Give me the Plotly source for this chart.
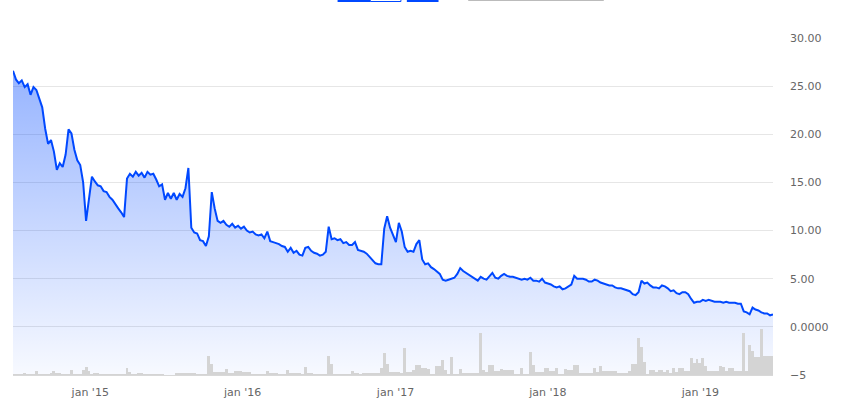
import pandas as pd
import plotly.graph_objects as go

# ---- data ----
START_DATE = "2014-06-30"          # first weekly observation
PRICE = [
    26.6, 25.7, 25.3, 25.6, 24.9, 25.2, 24.1, 24.9, 24.6, 23.8,
    22.8, 20.6, 19.0, 19.4, 18.2, 16.3, 17.0, 16.6, 17.9, 20.5,
    20.1, 18.4, 17.3, 16.8, 15.0, 11.0, 13.6, 15.6, 15.1, 14.7,
    14.6, 14.1, 14.0, 13.5, 13.2, 12.7, 12.3, 11.9, 11.4, 15.4,
    15.9, 15.6, 16.1, 15.7, 16.0, 15.5, 16.1, 15.8, 15.9, 15.3,
    14.6, 14.8, 13.2, 13.9, 13.3, 13.9, 13.2, 13.8, 13.5, 14.4,
    16.5, 10.3, 9.8, 9.7, 9.0, 8.9, 8.4, 9.4, 14.0, 12.3,
    11.0, 10.8, 11.0, 10.6, 10.4, 10.7, 10.3, 10.5, 10.2, 10.4,
    10.0, 9.8, 9.9, 9.6, 9.5, 9.6, 9.2, 9.9, 8.9, 8.8,
    8.7, 8.6, 8.4, 8.3, 7.8, 8.2, 7.7, 7.9, 7.5, 7.4,
    8.2, 8.3, 7.9, 7.7, 7.6, 7.4, 7.5, 7.8, 10.4, 9.1,
    9.2, 9.0, 9.1, 8.7, 8.8, 8.5, 8.5, 8.8, 8.0, 7.9,
    7.8, 7.6, 7.3, 7.0, 6.6, 6.5, 6.5, 10.2, 11.5, 10.3,
    9.6, 8.8, 10.8, 9.9, 8.3, 7.8, 7.9, 7.8, 8.6, 9.0,
    7.0, 6.5, 6.6, 6.2, 6.0, 5.7, 5.5, 4.9, 4.8, 4.9,
    5.0, 5.1, 5.5, 6.1, 5.8, 5.6, 5.4, 5.2, 5.0, 4.8,
    5.2, 5.0, 4.9, 5.3, 5.6, 5.1, 5.0, 5.3, 5.5, 5.3,
    5.2, 5.2, 5.1, 5.0, 4.9, 5.0, 4.9, 5.1, 4.8, 4.8,
    4.7, 5.0, 4.6, 4.5, 4.4, 4.2, 4.1, 4.2, 3.9, 4.0,
    4.2, 4.4, 5.3, 5.0, 5.0, 5.0, 4.9, 4.7, 4.7, 4.9,
    4.8, 4.6, 4.5, 4.4, 4.3, 4.3, 4.1, 4.0, 4.0, 3.9,
    3.8, 3.7, 3.4, 3.3, 3.6, 4.8, 4.5, 4.6, 4.3, 4.1,
    4.1, 4.0, 4.3, 4.2, 4.0, 3.7, 3.8, 3.5, 3.4, 3.6,
    3.6, 3.4, 2.9, 2.5, 2.6, 2.6, 2.8, 2.7, 2.8, 2.7,
    2.6, 2.6, 2.6, 2.5, 2.6, 2.5, 2.5, 2.5, 2.4, 2.4,
    1.6, 1.5, 1.3, 2.0, 1.8, 1.7, 1.5, 1.4, 1.4, 1.2, 1.3,
]
VOLUME = [
    0.6, 0.6, 0.6, 1.0, 1.7, 0.6, 0.7, 0.7, 4.3, 0.6,
    0.6, 0.6, 0.6, 1.7, 4.0, 1.7, 1.7, 0.6, 1.0, 1.0,
    5.3, 0.6, 0.6, 0.6, 5.3, 8.3, 3.7, 1.0, 1.7, 1.7,
    0.6, 0.6, 0.6, 0.6, 0.6, 0.6, 0.6, 0.6, 0.6, 7.3,
    3.0, 0.6, 0.6, 1.7, 1.7, 0.7, 0.7, 0.7, 0.7, 0.7,
    0.7, 0.7, 0.0, 0.0, 0.0, 0.0, 1.3, 1.3, 1.3, 2.3,
    2.3, 2.3, 1.7, 1.0, 1.0, 1.0, 1.0, 19.3, 11.0, 3.3,
    3.3, 2.7, 2.7, 6.3, 1.7, 1.7, 3.7, 3.7, 4.3, 3.3,
    3.3, 3.3, 1.0, 1.0, 1.0, 1.0, 1.0, 4.3, 2.3, 2.0,
    2.0, 1.0, 1.0, 1.0, 5.3, 1.7, 1.7, 2.3, 2.3, 1.0,
    8.3, 1.7, 1.7, 1.0, 1.0, 1.0, 1.0, 1.0, 19.3, 11.3,
    0.8, 0.8, 0.8, 0.8, 0.8, 1.0, 4.3, 1.7, 1.7, 1.0,
    1.7, 1.7, 1.7, 1.7, 1.7, 2.3, 6.7, 22.0, 11.0, 3.0,
    3.0, 3.3, 3.3, 1.7, 27.0, 3.0, 3.0, 5.0, 10.0, 10.0,
    7.0, 7.0, 5.7, 1.0, 1.0, 9.3, 9.3, 15.3, 5.0, 1.0,
    18.3, 1.0, 1.0, 6.3, 2.3, 2.3, 2.0, 2.0, 2.0, 2.0,
    42.3, 5.0, 3.3, 10.3, 10.3, 3.7, 3.7, 6.0, 5.0, 5.0,
    5.0, 5.0, 1.0, 1.0, 7.0, 1.0, 1.0, 23.3, 10.3, 3.3,
    3.3, 3.3, 7.0, 7.0, 4.3, 4.3, 7.0, 1.0, 1.0, 6.0,
    5.0, 5.0, 10.3, 10.3, 1.7, 2.0, 2.0, 2.0, 2.0, 6.7,
    3.3, 9.3, 3.7, 3.7, 3.7, 3.7, 3.7, 2.0, 2.0, 2.0,
    2.0, 4.3, 11.0, 11.0, 37.0, 28.3, 12.7, 1.0, 5.0, 5.0,
    2.7, 5.0, 5.0, 2.7, 5.0, 1.7, 7.0, 2.7, 7.0, 7.0,
    3.7, 3.7, 17.0, 11.7, 16.0, 11.7, 17.0, 9.3, 3.7, 3.7,
    3.7, 3.7, 8.7, 7.7, 3.7, 7.0, 7.0, 3.7, 3.7, 3.7,
    42.0, 4.3, 30.0, 23.7, 17.7, 17.7, 46.0, 19.3, 19.3, 19.3, 19.3,
]
X_TICK_DATES = ["2015-01-01", "2016-01-01", "2017-01-01", "2018-01-01", "2019-01-01"]
X_TICK_LABELS = ["jan '15", "jan '16", "jan '17", "jan '18", "jan '19"]
Y_TICK_VALUES = [-5, 0, 5, 10, 15, 20, 25, 30]
Y_TICK_LABELS = ["\u22125", "0.0000", "5.00", "10.00", "15.00", "20.00", "25.00", "30.00"]

# ---- figure ----
n = min(len(PRICE), len(VOLUME))
dates = pd.date_range(START_DATE, periods=n, freq="7D")
price = PRICE[:n]
volume = VOLUME[:n]
y_min, y_max = Y_TICK_VALUES[0], Y_TICK_VALUES[-1]

BLUE = "#0048ff"

fig = go.Figure()
# baseline for the area fill (bottom of the pane)
fig.add_trace(go.Scatter(x=dates, y=[y_min] * n, mode="lines",
                         line=dict(width=0, color="rgba(0,0,0,0)"),
                         hoverinfo="skip", showlegend=False))
fig.add_trace(go.Scatter(
    x=dates, y=price, mode="lines",
    line=dict(color=BLUE, width=2),
    fill="tonexty",
    fillgradient=dict(type="vertical", start=y_min, stop=y_max,
                      colorscale=[[0, "rgba(0,72,255,0.03)"],
                                  [1, "rgba(0,72,255,0.45)"]]),
    showlegend=False))
fig.add_trace(go.Bar(x=dates, y=volume, yaxis="y2",
                     marker=dict(color="#d4d4d4", line=dict(width=0)),
                     showlegend=False))

fig.update_layout(
    width=841, height=418,
    margin=dict(l=13, r=60, t=38, b=43),
    paper_bgcolor="white", plot_bgcolor="white",
    showlegend=False, bargap=0, hovermode=False,
    font=dict(family="DejaVu Sans", size=11, color="#666666"),
    xaxis=dict(type="date", range=[dates[0], dates[-1]],
               tickvals=X_TICK_DATES, ticktext=X_TICK_LABELS,
               showgrid=False, zeroline=False, showline=True,
               linecolor="#d8d8d8", linewidth=1, ticks="",
               ticklabelstandoff=7),
    yaxis=dict(side="right", range=[y_min, y_max],
               tickvals=Y_TICK_VALUES, ticktext=Y_TICK_LABELS,
               showgrid=True, gridcolor="#e6e6e6", gridwidth=1,
               zeroline=False, ticks="", ticklabelstandoff=16),
    yaxis2=dict(overlaying="y", range=[0, 337], visible=False),
)

# cropped range-selector controls peeking in at the very top
def py(p):
    return 1 + (38 - p) / 337

def px(p):
    return (p - 13) / 768

fig.add_shape(type="rect", xref="paper", yref="paper", x0=px(341), x1=px(374),
              y0=py(2), y1=py(-1), fillcolor=BLUE, line=dict(width=0))
fig.add_shape(type="rect", xref="paper", yref="paper", x0=px(374), x1=px(405),
              y0=py(1.5), y1=py(-3), fillcolor="white", line=dict(color=BLUE, width=1))
fig.add_shape(type="rect", xref="paper", yref="paper", x0=px(411), x1=px(443),
              y0=py(2), y1=py(-1), fillcolor=BLUE, line=dict(width=0))
fig.add_shape(type="line", xref="paper", yref="paper", x0=px(473), x1=px(610),
              y0=py(0.5), y1=py(0.5), line=dict(color="#bbbbbb", width=1.2))

fig.write_html("out.html",
               config={"displayModeBar": False},
               post_script="document.body.style.margin='0';document.body.style.overflow='hidden';")
